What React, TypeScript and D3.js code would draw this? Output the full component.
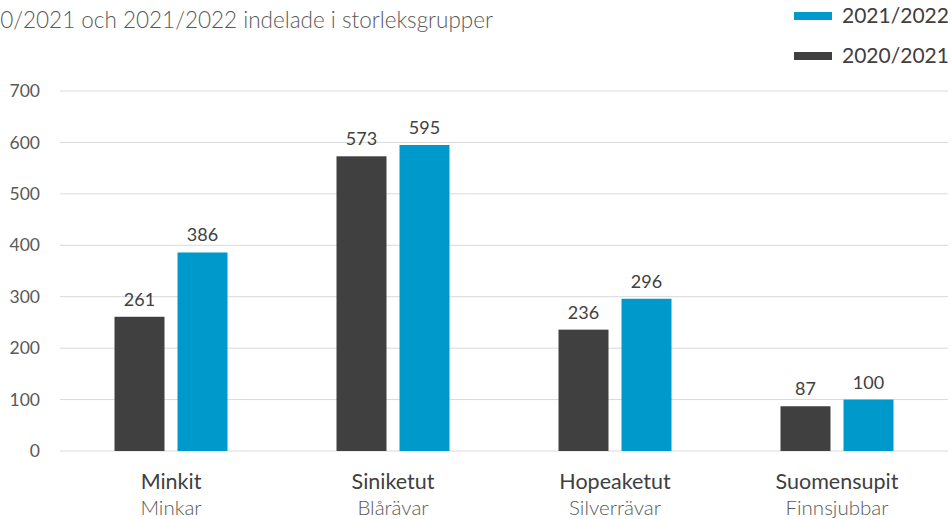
import * as d3 from 'd3';

// data
const categoriesFi = ['Minkit', 'Siniketut', 'Hopeaketut', 'Suomensupit'];
const categoriesSv = ['Minkar', 'Blårävar', 'Silverrävar', 'Finnsjubbar'];
const seriesNames = ['2020/2021', '2021/2022'];
const values2021 = [261, 573, 236, 87];
const values2022 = [386, 595, 296, 100];
const yTicks = [0, 100, 200, 300, 400, 500, 600, 700];
const colors = ['#404040', '#0099cc'];
const subtitle = '2020/2021 och 2021/2022 indelade i storleksgrupper';

const W = 951;
const H = 519;
const margin = { top: 91, right: 3, bottom: 68, left: 60 };
const font = 'Lato, "Open Sans", sans-serif';

const App = () => {
  const innerW = W - margin.left - margin.right;
  const innerH = H - margin.top - margin.bottom;

  const x = d3.scaleBand<string>().domain(categoriesFi).range([0, innerW]);
  const y = d3.scaleLinear().domain([0, 700]).range([innerH, 0]);

  const barW = 50;
  const gap = 13;
  const series = [values2021, values2022];

  return (
    <div style={{ position: 'absolute', left: 0, top: 0 }}>
      <svg width={W} height={H} style={{ display: 'block', background: '#fff' }}>
        <text x={-39} y={28} fontFamily={font} fontWeight={300} fontSize={22.5} fill="#595959">
          {subtitle}
        </text>

        {/* legend */}
        {[1, 0].map((si, i) => (
          <g key={si} transform={`translate(794,${12 + i * 40})`}>
            <rect x={0} y={0} width={38} height={8} fill={colors[si]} />
            <text x={48} y={11} fontFamily={font} fontSize={21} fill="#404040">
              {seriesNames[si]}
            </text>
          </g>
        ))}

        <g transform={`translate(${margin.left},${margin.top})`}>
          {yTicks.map(t => (
            <g key={t}>
              <line x1={0} x2={innerW} y1={y(t)} y2={y(t)} stroke="#d9d9d9" strokeWidth={1} />
              <text x={-20} y={y(t)} dy="0.35em" textAnchor="end" fontFamily={font} fontSize={17.5} fill="#595959">
                {t}
              </text>
            </g>
          ))}

          {categoriesFi.map((c, ci) => {
            const cx = (x(c) ?? 0) + x.bandwidth() / 2;
            return (
              <g key={c}>
                {series.map((vals, si) => {
                  const bx = si === 0 ? cx - gap / 2 - barW : cx + gap / 2;
                  return (
                    <g key={si}>
                      <rect x={bx} y={y(vals[ci])} width={barW} height={innerH - y(vals[ci])} fill={colors[si]} />
                      <text x={bx + barW / 2} y={y(vals[ci]) - 11} textAnchor="middle" fontFamily={font} fontSize={18} fill="#404040">
                        {vals[ci]}
                      </text>
                    </g>
                  );
                })}
                <text x={cx} y={innerH + 38} textAnchor="middle" fontFamily={font} fontWeight={400} fontSize={21.5} fill="#404040">
                  {c}
                </text>
                <text x={cx} y={innerH + 64} textAnchor="middle" fontFamily={font} fontWeight={300} fontSize={20.5} fill="#595959">
                  {categoriesSv[ci]}
                </text>
              </g>
            );
          })}
        </g>
      </svg>
    </div>
  );
};

export default App;
